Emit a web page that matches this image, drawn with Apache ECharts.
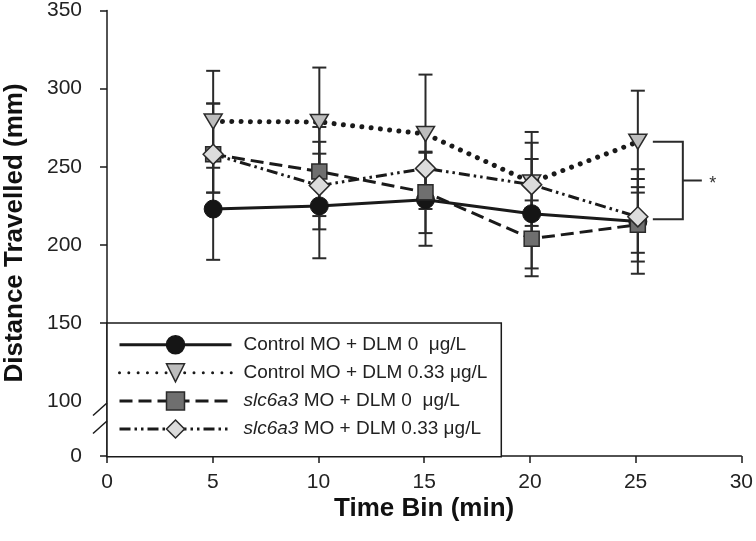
<!DOCTYPE html>
<html>
<head>
<meta charset="utf-8">
<script src="https://cdn.jsdelivr.net/npm/echarts@6/dist/echarts.min.js"></script>
<style>html,body{margin:0;padding:0;background:#fff}#c{width:756px;height:541px}</style>
</head>
<body>
<div id="c"></div>
<script>
// ---- data ----
const times = [5, 10, 15, 20, 25];
const seriesNames = ['Control MO + DLM 0 μg/L', 'Control MO + DLM 0.33 μg/L', 'slc6a3 MO + DLM 0 μg/L', 'slc6a3 MO + DLM 0.33 μg/L'];
const ctrl0    = [223, 225, 229, 220, 215];
const ctrl0Lo  = [190.5, 191.5, 199.5, 185, 181.6];
const ctrl0Hi  = [255.5, 258.4, 259, 255, 248.5];
const ctrl033   = [279, 278.7, 271, 240, 266];
const ctrl033Lo = [249.4, 243.7, 233, 208, 233.5];
const ctrl033Hi = [311.4, 313.5, 309, 272.3, 298.7];
const slc0    = [258, 247, 233.7, 204, 213];
const slc0Lo  = [233.5, 218.5, 207.6, 180, 189.4];
const slc0Hi  = [290.5, 275.5, 259.7, 228.5, 237];
const slc033   = [258, 238, 249, 238.6, 218];
const slc033Lo = [233.5, 210, 223, 212.2, 195];
const slc033Hi = [290.5, 266, 275.4, 265.4, 242.2];
const upperTicks = [150, 200, 250, 300, 350];
const sigTime = 25;
const sigRange = [216.5, 266];

// ---- chart ----
const FONT = '"Liberation Sans", Arial, Helvetica, sans-serif';
const INK = '#1a1a1a';
const chart = echarts.init(document.getElementById('c'), null, {renderer: 'canvas'});

function pts(vals) { return times.map((t, i) => [t, vals[i]]); }
function errPts(lo, hi) { return times.map((t, i) => [t, lo[i], hi[i]]); }

const errData = [].concat(
  errPts(ctrl0Lo, ctrl0Hi), errPts(ctrl033Lo, ctrl033Hi),
  errPts(slc0Lo, slc0Hi), errPts(slc033Lo, slc033Hi));

function renderErr(params, api) {
  const x = api.value(0);
  const top = api.coord([x, api.value(2)]);
  const bot = api.coord([x, api.value(1)]);
  const hw = 7;
  const st = {stroke: '#2a2a2a', lineWidth: 2};
  return {type: 'group', children: [
    {type: 'line', shape: {x1: top[0], y1: top[1], x2: bot[0], y2: bot[1]}, style: st},
    {type: 'line', shape: {x1: top[0] - hw, y1: top[1], x2: top[0] + hw, y2: top[1]}, style: st},
    {type: 'line', shape: {x1: bot[0] - hw, y1: bot[1], x2: bot[0] + hw, y2: bot[1]}, style: st}
  ]};
}

function renderSig(params, api) {
  const x = api.value(0);
  const top = api.coord([x, api.value(2)]);
  const bot = api.coord([x, api.value(1)]);
  const midY = (top[1] + bot[1]) / 2;
  const st = {stroke: '#2a2a2a', lineWidth: 2, fill: null};
  return {type: 'group', children: [
    {type: 'polyline', shape: {points: [[top[0] + 15, top[1]], [top[0] + 45, top[1]], [top[0] + 45, bot[1]], [top[0] + 15, bot[1]]]}, style: st},
    {type: 'line', shape: {x1: top[0] + 45, y1: midY, x2: top[0] + 64, y2: midY}, style: st},
    {type: 'text', x: top[0] + 75, y: midY + 4, style: {text: '*', font: '18px ' + FONT, fill: '#333', align: 'center', verticalAlign: 'middle'}}
  ]};
}

const legendText = {
  0: '{s| }{n|Control MO + DLM 0  μg/L}',
  1: '{s| }{n|Control MO + DLM 0.33 μg/L}',
  2: '{s| }{i|slc6a3}{n| MO + DLM 0  μg/L}',
  3: '{s| }{i|slc6a3}{n| MO + DLM 0.33 μg/L}'
};

const option = {
  animation: false,
  backgroundColor: '#fff',
  grid: [
    {left: 107, right: 12, top: 10, height: 391.3},
    {left: 107, right: 12, top: 401.3, bottom: 85}
  ],
  xAxis: [
    {gridIndex: 0, type: 'value', min: 0, max: 30, interval: 5, show: false},
    {gridIndex: 1, type: 'value', min: 0, max: 30, interval: 5,
      axisLine: {show: true, lineStyle: {color: INK, width: 1.5}},
      axisTick: {show: true, length: 7, lineStyle: {color: INK, width: 1.5}},
      axisLabel: {fontSize: 21, color: '#222', fontFamily: FONT, margin: 16},
      splitLine: {show: false},
      name: 'Time Bin (min)', nameLocation: 'middle', nameGap: 40,
      nameTextStyle: {fontSize: 26, fontWeight: 'bold', color: '#111', fontFamily: FONT}}
  ],
  yAxis: [
    {gridIndex: 0, type: 'value', min: 100, max: 350, interval: 50,
      axisLine: {show: true, onZero: false, lineStyle: {color: INK, width: 1.5}},
      axisTick: {show: true, length: 7, customValues: upperTicks, lineStyle: {color: INK, width: 1.5}},
      axisLabel: {fontSize: 21, color: '#222', fontFamily: FONT, margin: 25},
      splitLine: {show: false}},
    {gridIndex: 1, type: 'value', min: 0, max: 100, interval: 100,
      axisLine: {show: true, onZero: false, lineStyle: {color: INK, width: 1.5}},
      axisTick: {show: true, length: 7, customValues: [0], lineStyle: {color: INK, width: 1.5}},
      axisLabel: {fontSize: 21, color: '#222', fontFamily: FONT, margin: 25, customValues: [0],
        formatter: v => (v === 0 ? '0' : '')},
      splitLine: {show: false}}
  ],
  legend: {
    orient: 'vertical', left: 107, top: 323,
    padding: [12, 14, 18, 11],
    itemWidth: 112, itemHeight: 22.5, itemGap: 8.6,
    backgroundColor: '#fff', borderColor: INK, borderWidth: 1.5,
    selectedMode: false,
    data: seriesNames,
    itemStyle: {borderWidth: 1.5},
    lineStyle: {width: 3},
    formatter: name => legendText[seriesNames.indexOf(name)],
    textStyle: {fontSize: 19, color: '#222', fontFamily: FONT,
      rich: {
        s: {width: 7, fontSize: 19, fontFamily: FONT},
        n: {fontSize: 19, color: '#222', fontFamily: FONT},
        i: {fontSize: 19, color: '#222', fontFamily: FONT, fontStyle: 'italic'}
      }}
  },
  graphic: [
    {type: 'line', shape: {x1: 93, y1: 415.5, x2: 107, y2: 403}, style: {stroke: INK, lineWidth: 1.5}, z: 100},
    {type: 'line', shape: {x1: 93, y1: 433.5, x2: 107, y2: 421}, style: {stroke: INK, lineWidth: 1.5}, z: 100},
    {type: 'text', x: 15, y: 233, rotation: Math.PI / 2,
      style: {text: 'Distance Travelled (mm)', font: 'bold 26px ' + FONT, fill: '#111', align: 'center', verticalAlign: 'middle'}}
  ],
  series: [
    {type: 'custom', name: 'err', xAxisIndex: 0, yAxisIndex: 0, renderItem: renderErr, data: errData, z: 1, silent: true},
    {type: 'custom', name: 'sig', xAxisIndex: 0, yAxisIndex: 0, renderItem: renderSig, data: [[sigTime, sigRange[0], sigRange[1]]], z: 1, silent: true},
    {type: 'line', name: seriesNames[0], xAxisIndex: 0, yAxisIndex: 0, data: pts(ctrl0), z: 3,
      symbol: 'circle', symbolSize: 18,
      lineStyle: {color: INK, width: 3},
      itemStyle: {color: '#151515', borderColor: '#151515', borderWidth: 1}},
    {type: 'line', name: seriesNames[1], xAxisIndex: 0, yAxisIndex: 0, data: pts(ctrl033), z: 4,
      symbol: 'triangle', symbolSize: [18, 15], symbolRotate: 180,
      lineStyle: {color: INK, width: 5, type: [0.01, 9.3], cap: 'round'},
      itemStyle: {color: '#bdbdbd', borderColor: '#2a2a2a', borderWidth: 1.5}},
    {type: 'line', name: seriesNames[2], xAxisIndex: 0, yAxisIndex: 0, data: pts(slc0), z: 5,
      symbol: 'rect', symbolSize: 15,
      lineStyle: {color: INK, width: 3, type: [13, 6]},
      itemStyle: {color: '#6f6f6f', borderColor: '#2a2a2a', borderWidth: 1.5}},
    {type: 'line', name: seriesNames[3], xAxisIndex: 0, yAxisIndex: 0, data: pts(slc033), z: 6,
      symbol: 'diamond', symbolSize: 20,
      lineStyle: {color: INK, width: 3, type: [11, 4, 2.5, 4, 2.5, 4]},
      itemStyle: {color: '#dcdcdc', borderColor: '#2a2a2a', borderWidth: 1.5}}
  ]
};
chart.setOption(option);
</script>
</body>
</html>
